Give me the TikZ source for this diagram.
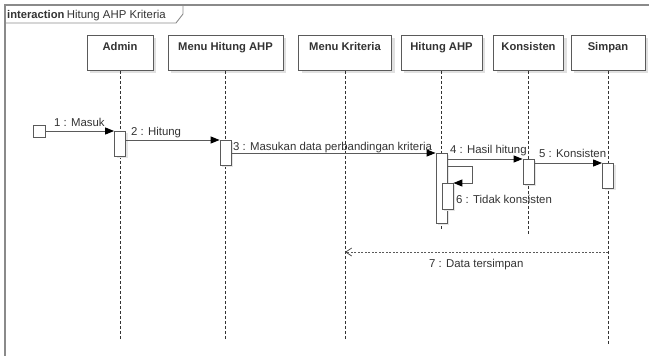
\documentclass[tikz,border=0pt]{standalone}
\usepackage{fontspec}
\setmainfont{Liberation Sans}
\usetikzlibrary{arrows.meta,shadows}
\definecolor{linegray}{HTML}{5A5A5A}
\definecolor{framegray}{HTML}{8A8A8A}
\definecolor{txt}{HTML}{333333}
\begin{document}
\begin{tikzpicture}[x=1pt,y=-1pt,
  lbl/.style={font=\fontsize{11.4}{13}\selectfont, text=txt, inner sep=0pt, anchor=base west},
  obj/.style={draw=linegray, fill=white, line width=0.8pt, minimum height=35pt,
    anchor=north, inner sep=0pt, text height=7.5pt, text depth=12pt,
    font=\fontsize{11.2}{13}\selectfont\bfseries, text=txt,
    drop shadow={shadow xshift=3pt, shadow yshift=-3pt, fill=black!12, opacity=1}},
  act/.style={draw=linegray, fill=white, line width=0.8pt, minimum width=11pt,
    inner sep=0pt, anchor=north,
    drop shadow={shadow xshift=2pt, shadow yshift=-2pt, fill=black!10, opacity=1}},
  lifeline/.style={draw=black!80, line width=0.7pt, dash pattern=on 3pt off 2pt},
  msg/.style={draw=linegray, line width=1pt, -{Triangle[length=9pt,width=7pt,black]}},
  ret/.style={draw=linegray, line width=0.8pt, dash pattern=on 2pt off 1.5pt,
    -{Straight Barb[length=6pt,width=8pt,black!70]}}]
\useasboundingbox (0,0) rectangle (649,356);
\clip (0,0) rectangle (649,356);

% frame and its name tab
\draw[framegray, line width=1.4pt] (5,400) -- (5,5) -- (700,5);
\draw[framegray, line width=0.9pt] (5,23) -- (176,23) -- (183,14) -- (183,5);
\node[lbl, font=\fontsize{11.2}{13}\selectfont\bfseries] (kw) at (7,19) {interaction};
\node[lbl, anchor=base west] (title) at ([xshift=2pt]kw.base east) {Hitung AHP Kriteria};

% lifeline heads
\node[obj, minimum width=66pt]  (admin)    at (120,35)   {Admin};
\node[obj, minimum width=115pt] (menuhit)  at (225.5,35) {Menu Hitung AHP};
\node[obj, minimum width=93pt]  (menukrit) at (345,35)   {Menu Kriteria};
\node[obj, minimum width=81pt]  (hitung)   at (441.5,35) {Hitung AHP};
\node[obj, minimum width=70pt]  (konsis)   at (528.5,35) {Konsisten};
\node[obj, minimum width=74pt]  (simpan)   at (608,35)   {Simpan};

% dashed lifelines
\coordinate (adminEnd)    at (admin.south    |- 0,340);
\coordinate (menuhitEnd)  at (menuhit.south  |- 0,340);
\coordinate (menukritEnd) at (menukrit.south |- 0,340);
\coordinate (hitungEnd)   at (hitung.south   |- 0,229);
\coordinate (konsisEnd)   at (konsis.south   |- 0,235);
\coordinate (simpanEnd)   at (simpan.south   |- 0,345);
\draw[lifeline] (admin.south) -- (adminEnd);
\draw[lifeline] (menuhit.south) -- (menuhitEnd);
\draw[lifeline] (menukrit.south) -- (menukritEnd);
\draw[lifeline] (hitung.south) -- (hitungEnd);
\draw[lifeline] (konsis.south) -- (konsisEnd);
\draw[lifeline] (simpan.south) -- (simpanEnd);

% activation bars
\node[act, minimum height=25pt] (a1) at (120,131)   {};
\node[act, minimum height=25pt] (m1) at (225.5,140) {};
\node[act, minimum height=70pt] (h1) at (441.5,153) {};
\node[act, minimum height=25pt] (k1) at (528.5,159) {};
\node[act, minimum height=25pt] (s1) at (608,163)   {};
\node[act, minimum height=26pt] (h2) at (447.5,183) {};

% found message source
\node[draw=linegray, fill=white, line width=0.8pt, minimum size=12pt, inner sep=0pt] (start) at (39,131) {};

% messages
\draw[msg] (start.east) -- (a1.north west);
\draw[msg] (a1.east |- m1.north) -- (m1.north west);
\draw[msg] (m1.east |- h1.north) -- (h1.north west);
\draw[msg] (h1.east |- k1.north) -- (k1.north west);
\draw[msg] (k1.east |- s1.north) -- (s1.north west);
\draw[msg] (h1.east |- 0,166) -- ++(25.5,0) |- (h2.north east);
\draw[ret] (simpan.south |- 0,252) -- (menukrit.south |- 0,252);

% message labels
\node[lbl] (l1) at (54,126)  {1 : Masuk};
\node[lbl] (l2) at (131,135) {2 : Hitung};
\node[lbl] (l3) at (233,150) {3 : Masukan data perbandingan kriteria};
\node[lbl] (l4) at (450,153) {4 : Hasil hitung};
\node[lbl] (l5) at (539,157) {5 : Konsisten};
\node[lbl] (l6) at (456,203) {6 : Tidak konsisten};
\node[lbl] (l7) at (429,267) {7 : Data tersimpan};
\end{tikzpicture}
\end{document}
